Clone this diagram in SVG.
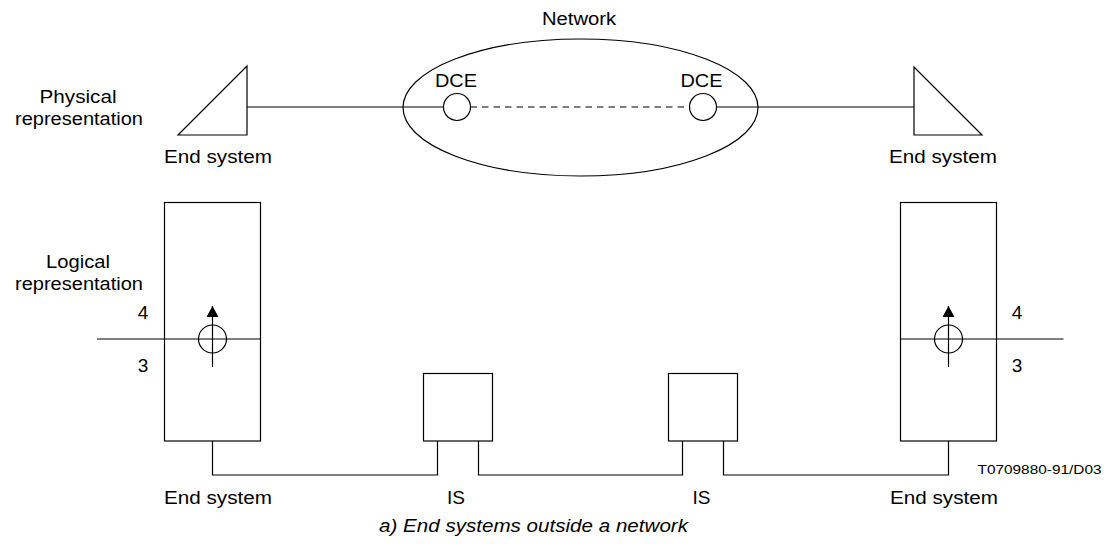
<svg xmlns="http://www.w3.org/2000/svg" width="1109" height="547" viewBox="0 0 1109 547">
<style>
.s{fill:none;stroke:#000;stroke-width:1.2}
.w{fill:#fff;stroke:#000;stroke-width:1.2}
text{font-family:"Liberation Sans",Arial,sans-serif;font-size:17.5px;fill:#000;text-anchor:middle}
.it{font-style:italic}
.sm{font-size:12px}
.d{font-size:19px}
</style>
<defs>
<marker id="ah" viewBox="0 0 11 12" refX="11" refY="6" markerWidth="11" markerHeight="12" markerUnits="userSpaceOnUse" orient="auto">
<path d="M0,0 L11,6 L0,12 Z" fill="#000"/>
</marker>
</defs>
<rect width="1109" height="547" fill="#fff"/>

<g id="labels">
<text x="78" y="103" textLength="77" lengthAdjust="spacingAndGlyphs">Physical</text>
<text x="79" y="125" textLength="128" lengthAdjust="spacingAndGlyphs">representation</text>
<text x="78" y="268" textLength="64" lengthAdjust="spacingAndGlyphs">Logical</text>
<text x="79" y="290" textLength="128" lengthAdjust="spacingAndGlyphs">representation</text>
<text class="it" x="533.5" y="532" textLength="309" lengthAdjust="spacingAndGlyphs">a) End systems outside a network</text>
<text class="sm" x="1039.5" y="473.5" textLength="124" lengthAdjust="spacingAndGlyphs">T0709880-91/D03</text>
</g>

<g id="connectors">
<line class="s" x1="247" y1="107" x2="443.5" y2="107"/>
<line class="s" x1="716.5" y1="107" x2="914" y2="107"/>
<line class="s" x1="470.5" y1="107" x2="689.5" y2="107" stroke-dasharray="6.5,5"/>
<polyline class="s" points="212.5,441 212.5,475 437.5,475 437.5,441"/>
<polyline class="s" points="478.5,441 478.5,475 682.5,475 682.5,441"/>
<polyline class="s" points="723.5,441 723.5,475 948.5,475 948.5,441"/>
</g>

<g id="network">
<ellipse class="s" cx="580.5" cy="107.5" rx="177.5" ry="68.5"/>
<text x="579" y="25" textLength="74" lengthAdjust="spacingAndGlyphs">Network</text>
</g>

<g id="dce-left">
<circle class="w" cx="457" cy="107" r="13.5"/>
<text x="456" y="87" textLength="42" lengthAdjust="spacingAndGlyphs">DCE</text>
</g>
<g id="dce-right">
<circle class="w" cx="703" cy="107" r="13.5"/>
<text x="701.5" y="87" textLength="42" lengthAdjust="spacingAndGlyphs">DCE</text>
</g>

<g id="es-phys-left">
<polygon class="w" points="178,135 247,66 247,135"/>
<text x="218" y="163" textLength="108" lengthAdjust="spacingAndGlyphs">End system</text>
</g>
<g id="es-phys-right">
<polygon class="w" points="982,135 914,67 914,135"/>
<text x="943" y="163" textLength="108" lengthAdjust="spacingAndGlyphs">End system</text>
</g>

<g id="es-log-left">
<rect class="w" x="164.5" y="202.5" width="96" height="238.5"/>
<line class="s" x1="97" y1="339" x2="260.5" y2="339"/>
<circle class="s" cx="212.5" cy="339" r="14"/>
<line class="s" x1="212.5" y1="367" x2="212.5" y2="306" marker-end="url(#ah)"/>
<text class="d" x="143" y="318.5">4</text>
<text class="d" x="143" y="372">3</text>
<text x="218" y="504" textLength="108" lengthAdjust="spacingAndGlyphs">End system</text>
</g>

<g id="es-log-right">
<rect class="w" x="900.5" y="202.5" width="96" height="238.5"/>
<line class="s" x1="900.5" y1="339" x2="1063.5" y2="339"/>
<circle class="s" cx="948.5" cy="339" r="14"/>
<line class="s" x1="948.5" y1="367" x2="948.5" y2="306" marker-end="url(#ah)"/>
<text class="d" x="1017" y="318.5">4</text>
<text class="d" x="1017" y="372">3</text>
<text x="944" y="504" textLength="108" lengthAdjust="spacingAndGlyphs">End system</text>
</g>

<g id="is-left">
<rect class="w" x="423.5" y="373.5" width="69" height="67.5"/>
<text x="456" y="504" textLength="18" lengthAdjust="spacingAndGlyphs">IS</text>
</g>
<g id="is-right">
<rect class="w" x="668.5" y="373.5" width="69" height="67.5"/>
<text x="701.5" y="504" textLength="18" lengthAdjust="spacingAndGlyphs">IS</text>
</g>
</svg>
